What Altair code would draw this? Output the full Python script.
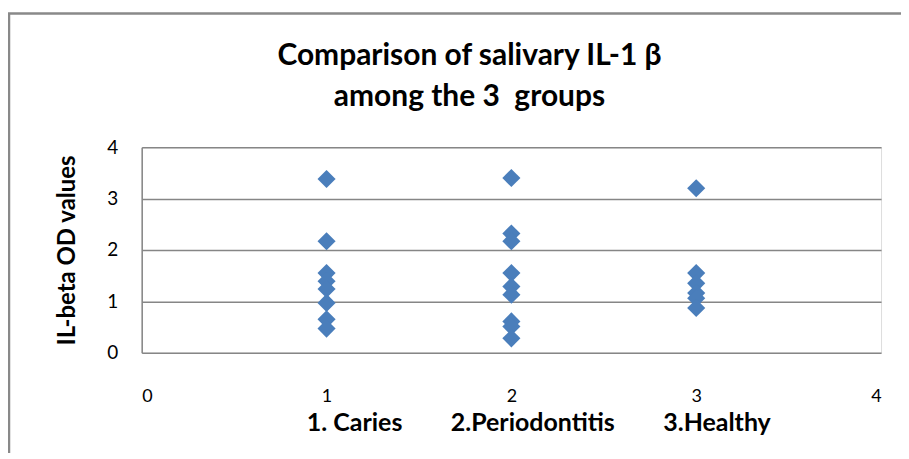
import altair as alt
import pandas as pd

groups = [1, 2, 3]
caries = [3.38, 2.17, 1.55, 1.39, 1.24, 0.97, 0.65, 0.47]
perio = [3.40, 2.32, 2.17, 1.55, 1.29, 1.13, 0.61, 0.51, 0.28]
healthy = [3.20, 1.55, 1.35, 1.16, 1.06, 0.87]

x_ticks = [0, 1, 2, 3, 4]
y_ticks = [0, 1, 2, 3, 4]

rows = []
for g, vals in zip(groups, [caries, perio, healthy]):
    for v in vals:
        rows.append({"group": g, "value": v})
df = pd.DataFrame(rows)

FONT = "Lato, sans-serif"
nb = "\u00a0"
xtitle = "1." + nb + "Caries" + nb * 8 + "2.Periodontitis" + nb * 8 + "3.Healthy"

points = alt.Chart(df).mark_point(
    shape="diamond", filled=True, size=330, color="#4a7ebb", opacity=1
).encode(
    x=alt.X("group:Q", scale=alt.Scale(domain=[0, 4], nice=False),
            axis=alt.Axis(values=x_ticks, grid=False, domain=False, ticks=False,
                          labelPadding=35, labelFontSize=18, labelFont=FONT,
                          labelColor="#000000", title=xtitle, titleFont=FONT,
                          titleFontSize=25, titleFontWeight="bold",
                          titleColor="#000000", titleAnchor="start",
                          titleX=165, titleY=78, titleBaseline="alphabetic")),
    y=alt.Y("value:Q", scale=alt.Scale(domain=[0, 4], nice=False),
            axis=alt.Axis(values=y_ticks, grid=True, gridColor="#868686",
                          gridWidth=1.5, domain=True, domainColor="#868686",
                          domainWidth=1.5, ticks=False, labelPadding=24,
                          labelFontSize=19, labelFont=FONT, labelColor="#000000",
                          title="IL-beta OD values", titleFont=FONT,
                          titleFontSize=24, titleFontWeight="bold",
                          titleColor="#000000", titlePadding=27)),
)

border = alt.Chart(pd.DataFrame({"k": [0]})).mark_rect(
    fill=None, stroke="#898989", strokeWidth=2.5, clip=False
).encode(
    x=alt.value(-133), x2=alt.value(900), y=alt.value(-134), y2=alt.value(400)
)

chart = alt.layer(border, points).properties(
    width=741, height=206,
    title=alt.TitleParams(
        ["Comparison of salivary IL-1 \u03b2", "among the 3" + nb + nb + "groups"],
        font=FONT, fontSize=30, fontWeight="bold", color="#000000",
        lineHeight=41, anchor="middle", dx=-42, offset=-100,
    ),
    autosize="none",
    padding={"left": 134, "top": 139, "right": 20, "bottom": 100},
).configure_view(stroke=None).configure(background="white")

chart.save("out.html", embed_options={"renderer": "svg", "actions": False})
